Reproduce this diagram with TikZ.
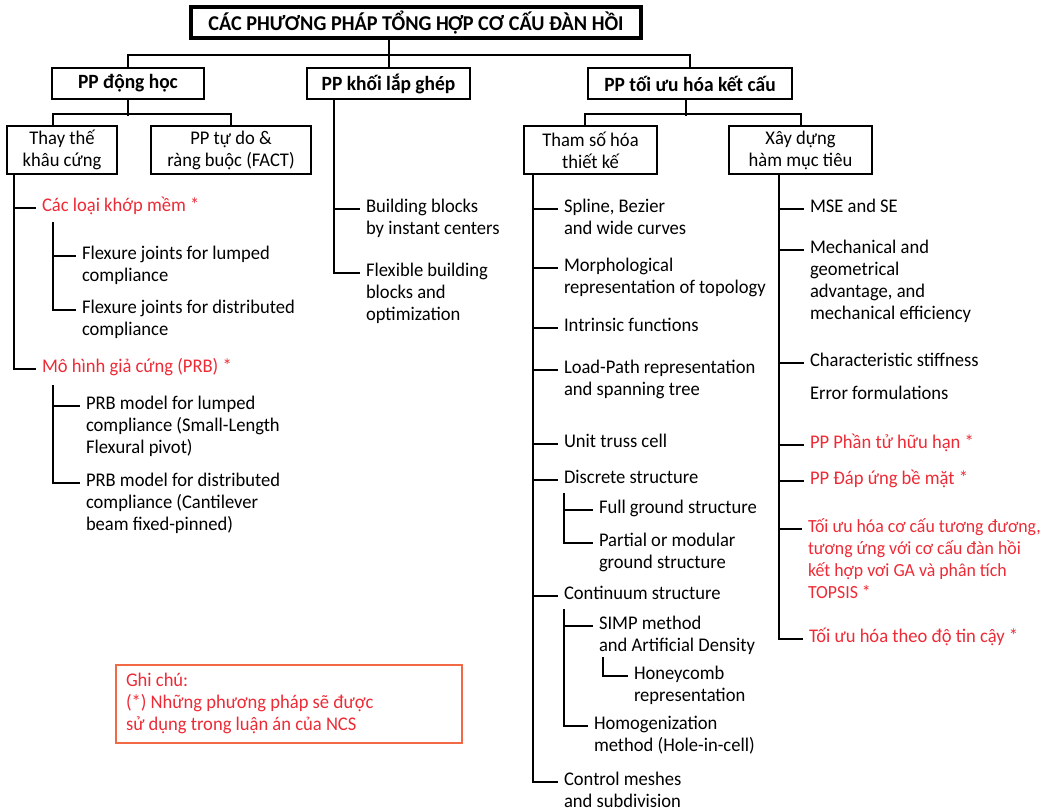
\documentclass[tikz,border=0pt]{standalone}
\usepackage{fontspec}
\setmainfont{Carlito}[FakeStretch=0.96]
\usetikzlibrary{calc}
\usetikzlibrary{positioning}
\definecolor{TextRed}{HTML}{ED2B36}
\definecolor{NoteOrange}{HTML}{F26A45}
\newcommand\tabrows[1]{\begin{tabular}[t]{@{}l@{}}#1\end{tabular}}

\begin{document}
\begin{tikzpicture}[x=0.75pt, y=-0.75pt, line width=1.5pt,
  every node/.style={font=\fontsize{14.5}{16.5}\selectfont},
  head/.style={draw, line width=1.5pt, inner sep=0pt, align=center,
    font=\fontsize{15.2}{16.5}\selectfont\bfseries},
  sub/.style={draw, line width=1.5pt, inner sep=0pt, align=center},
  item/.style={anchor=mid west, inner xsep=3.75pt, inner ysep=0pt},
  hot/.style={item, text=TextRed}]
  \useasboundingbox (0,0) rectangle (1042,807);

  % top level
  \node[head, line width=2.3pt, minimum width=337.5pt, minimum height=23.25pt,
    font=\fontsize{15.8}{16.5}\selectfont\bfseries]
    (Title) at (416,22.5) {CÁC PHƯƠNG PHÁP TỔNG HỢP CƠ CẤU ĐÀN HỒI};
  \node[head, minimum width=114pt, minimum height=23.25pt]
    (PPdh) at (128,83.5) {PP động học};
  \node[head, minimum width=122.25pt, minimum height=23.25pt]
    (PPkhoi) at (388.5,83.5) {PP khối lắp ghép};
  \node[head, minimum width=153pt, minimum height=23.25pt]
    (PPtoi) at (690,83.5) {PP tối ưu hóa kết cấu};

  \coordinate (Bus) at (389,55);
  \draw (Title.south -| Bus) -- (PPkhoi.north -| Bus);
  \draw (PPdh.north) |- (Bus) -| (PPtoi.north);

  % second level
  \node[sub, minimum width=82.5pt, minimum height=36pt]
    (Thay) at (62,150) {Thay thế\\khâu cứng};
  \node[sub, minimum width=120pt, minimum height=36pt]
    (FACT) at (231,150) {PP tự do \&\\ràng buộc (FACT)};
  \node[sub, minimum width=99.75pt, minimum height=36pt]
    (Tham) at (590.5,150) {Tham số hóa\\thiết kế};
  \node[sub, minimum width=107.25pt, minimum height=36pt]
    (Xay) at (800.5,150) {Xây dựng\\hàm mục tiêu};

  \draw (PPdh.south) -- ++(0,16);
  \draw ([xshift=-6.75pt]Thay.north) -- ++(0,-11) -| (FACT.north);
  \draw ([xshift=-3pt]PPtoi.south) -- ++(0,16);
  \draw ([xshift=-4pt]Tham.north) -- ++(0,-11) -| (Xay.north);

  % PP dong hoc
  \node[hot]  (cl)   at (36,208)  {Các loại khớp mềm *};
  \node[item] (fj1)  at (76,256)  {\tabrows{Flexure joints for lumped\\compliance}};
  \node[item] (fj2)  at (76,310)  {\tabrows{Flexure joints for distributed\\compliance}};
  \node[hot]  (mh)   at (36,369)  {Mô hình giả cứng (PRB) *};
  \node[item] (prb1) at (80,406)  {\tabrows{PRB model for lumped\\compliance (Small-Length\\Flexural pivot)}};
  \node[item] (prb2) at (80,483)  {\tabrows{PRB model for distributed\\compliance (Cantilever\\beam fixed-pinned)}};

  \coordinate (ThayTrunk) at ($(Thay.south west)+(8,0)$);
  \coordinate (FjTrunk)   at (53,222);
  \coordinate (PrbTrunk)  at (53,385);
  \foreach \n in {cl,mh}     \draw (ThayTrunk) |- (\n.mid west);
  \foreach \n in {fj1,fj2}   \draw (FjTrunk) |- (\n.mid west);
  \foreach \n in {prb1,prb2} \draw (PrbTrunk) |- (\n.mid west);

  % PP khoi lap ghep
  \node[item] (bb1) at (360,209) {\tabrows{Building blocks\\by instant centers}};
  \node[item] (bb2) at (360,273) {\tabrows{Flexible building\\blocks and\\optimization}};

  \coordinate (BlockTrunk) at ($(PPkhoi.south west)+(28,0)$);
  \foreach \n in {bb1,bb2} \draw (BlockTrunk) |- (\n.mid west);

  % tham so hoa thiet ke
  \node[item] (s1) at (558,209) {\tabrows{Spline, Bezier\\and wide curves}};
  \node[item] (s2) at (558,268) {\tabrows{Morphological\\representation of topology}};
  \node[item] (s3) at (558,328) {Intrinsic functions};
  \node[item] (s4) at (558,370) {\tabrows{Load-Path representation\\and spanning tree}};
  \node[item] (s5) at (558,444) {Unit truss cell};
  \node[item] (s6) at (558,480) {Discrete structure};
  \node[item] (s7) at (558,596) {Continuum structure};
  \node[item] (s8) at (558,782) {\tabrows{Control meshes\\and subdivision}};
  \node[item] (d1) at (593,510) {Full ground structure};
  \node[item] (d2) at (593,543) {\tabrows{Partial or modular\\ground structure}};
  \node[item] (c1) at (593,626) {\tabrows{SIMP method\\and Artificial Density}};
  \node[item] (c2) at (588,726) {\tabrows{Homogenization\\method (Hole-in-cell)}};
  \node[item] (hc) at (628,676) {\tabrows{Honeycomb\\representation}};

  \coordinate (ThamTrunk) at ($(Tham.south west)+(10,0)$);
  \coordinate (DiscTrunk) at (564,493);
  \coordinate (ContTrunk) at (564,609);
  \coordinate (SimpTrunk) at (603,657);
  \foreach \n in {s1,s2,s3,s4,s5,s6,s7,s8} \draw (ThamTrunk) |- (\n.mid west);
  \foreach \n in {d1,d2} \draw (DiscTrunk) |- (\n.mid west);
  \foreach \n in {c1,c2} \draw (ContTrunk) |- (\n.mid west);
  \draw (SimpTrunk) |- (hc.mid west);

  % xay dung ham muc tieu
  \node[item] (m1) at (804,209) {MSE and SE};
  \node[item] (m2) at (804,250) {\tabrows{Mechanical and\\geometrical\\advantage, and\\mechanical efficiency}};
  \node[item] (m3) at (804,363) {Characteristic stiffness};
  \node[item] (m4) at (804,396) {Error formulations};
  \node[hot]  (m5) at (804,445) {PP Phần tử hữu hạn *};
  \node[hot]  (m6) at (804,481) {PP Đáp ứng bề mặt *};
  \node[hot, font=\fontsize{13.9}{16.5}\selectfont]
    (m7) at (802,529) {\tabrows{Tối ưu hóa cơ cấu tương đương,\\tương ứng với cơ cấu đàn hồi\\kết hợp vơi GA và phân tích\\TOPSIS *}};
  \node[hot]  (m8) at (803,639) {Tối ưu hóa theo độ tin cậy *};

  \coordinate (XayTrunk) at ($(Xay.south west)+(51,0)$);
  \foreach \n in {m1,m2,m3,m5,m6,m7,m8} \draw (XayTrunk) |- (\n.mid west);

  % ghi chu
  \node[draw=NoteOrange, line width=1.1pt, text=TextRed, inner xsep=7.5pt,
    minimum height=58.5pt]
    (Note) at (289,704) {\begin{tabular}{@{}p{244.5pt}@{}}Ghi chú:\\(*) Những phương pháp sẽ được\\sử dụng trong luận án của NCS\end{tabular}};
\end{tikzpicture}
\end{document}
